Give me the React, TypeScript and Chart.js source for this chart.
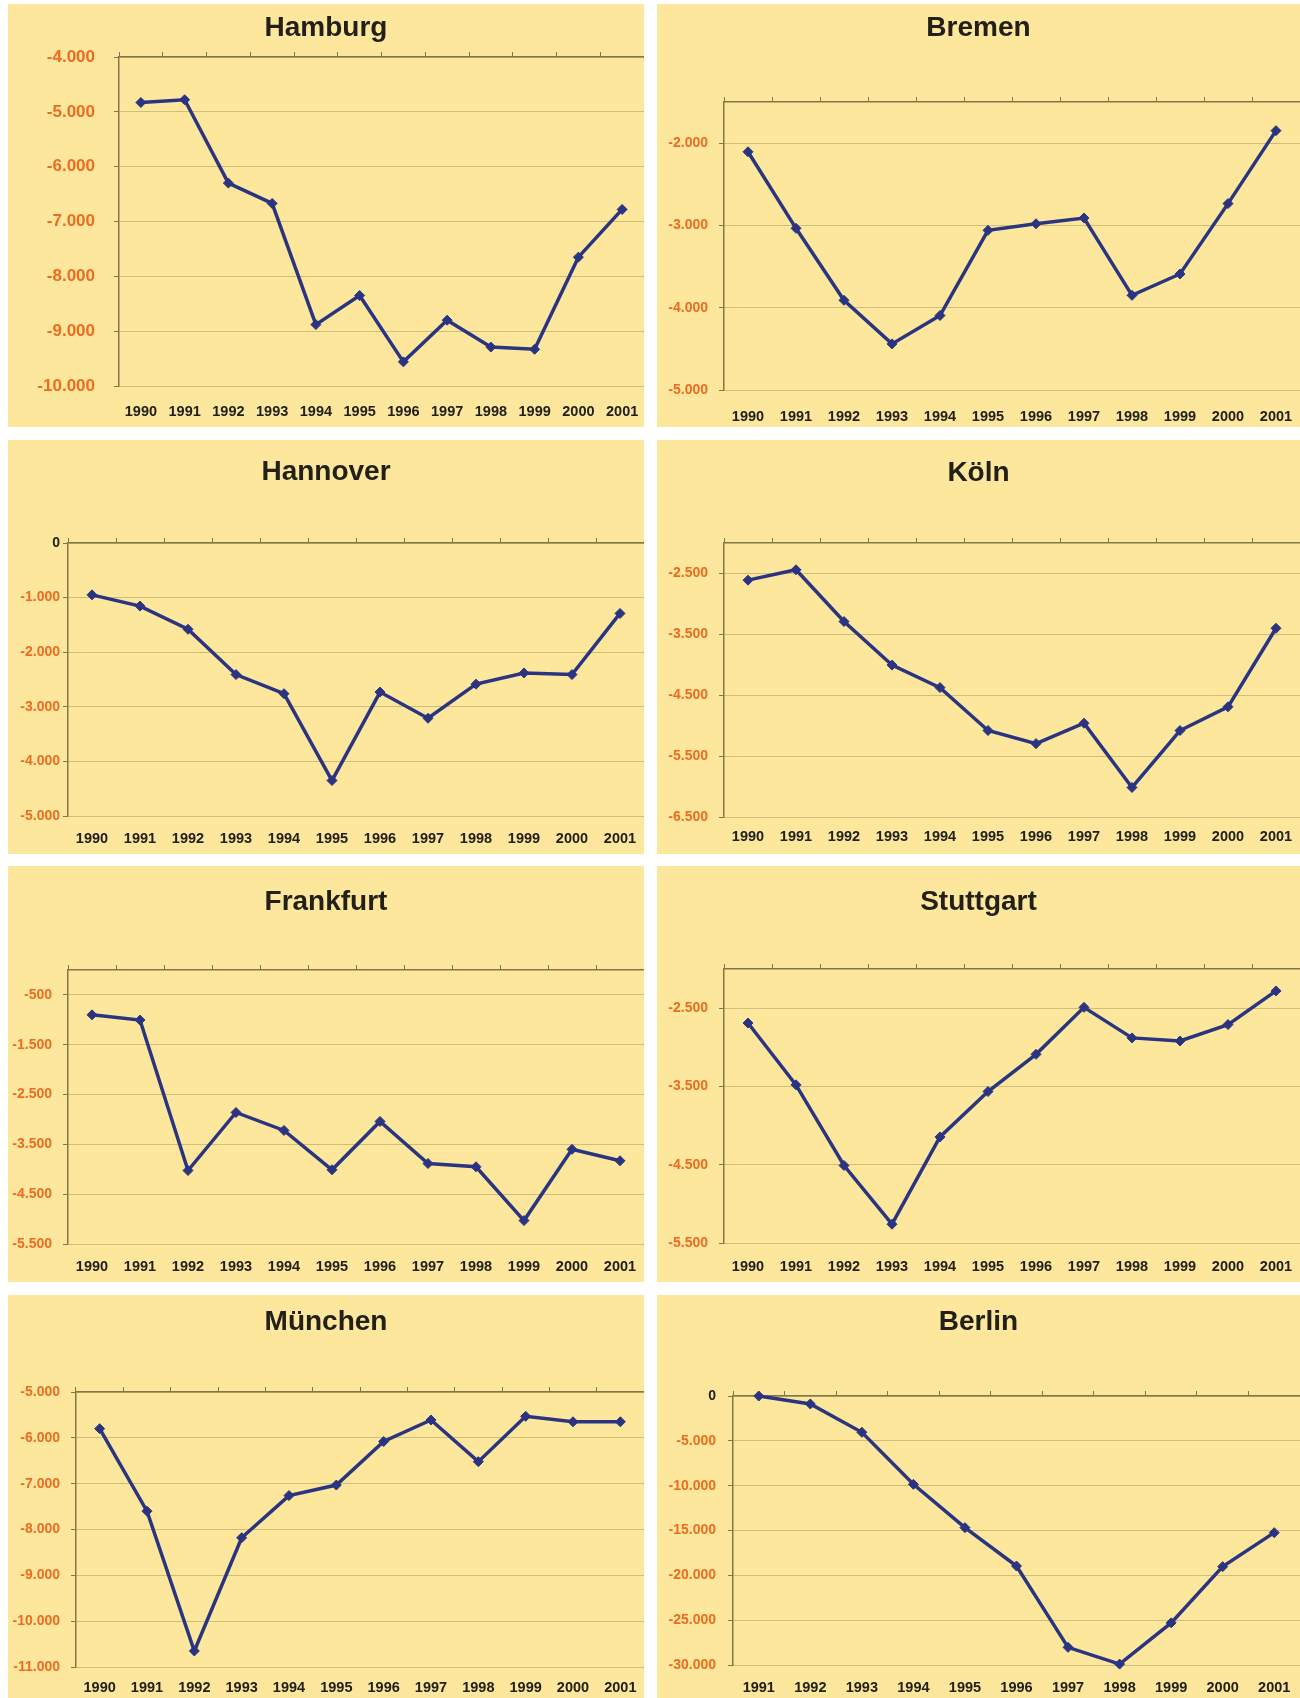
import React, { useEffect, useRef } from 'react';
import { Chart, registerables } from 'chart.js';

Chart.register(...registerables);

// ---------- data ----------
const years = ['1990', '1991', '1992', '1993', '1994', '1995', '1996', '1997', '1998', '1999', '2000', '2001'];
const yearsBerlin = ['1991', '1992', '1993', '1994', '1995', '1996', '1997', '1998', '1999', '2000', '2001'];

const hamburgValues = [-4830, -4780, -6300, -6670, -8880, -8350, -9560, -8800, -9290, -9330, -7650, -6780];
const bremenValues = [-2105, -3035, -3910, -4440, -4095, -3060, -2980, -2910, -3850, -3590, -2735, -1848];
const hannoverValues = [-950, -1155, -1580, -2410, -2760, -4350, -2730, -3210, -2585, -2380, -2410, -1290];
const koelnValues = [-2610, -2440, -3290, -4005, -4375, -5080, -5295, -4960, -6015, -5080, -4690, -3400];
const frankfurtValues = [-900, -1005, -4025, -2860, -3220, -4010, -3040, -3885, -3950, -5030, -3600, -3830];
const stuttgartValues = [-2690, -3480, -4510, -5260, -4145, -3565, -3090, -2490, -2880, -2920, -2710, -2280];
const muenchenValues = [-5800, -7600, -10650, -8180, -7260, -7030, -6080, -5610, -6520, -5530, -5650, -5650];
const berlinValues = [0, -890, -4050, -9850, -14680, -18960, -28030, -29900, -25300, -19030, -15240];

const hamburgTicks = [-10000, -9000, -8000, -7000, -6000, -5000, -4000];
const bremenTicks = [-5000, -4000, -3000, -2000];
const hannoverTicks = [-5000, -4000, -3000, -2000, -1000, 0];
const koelnTicks = [-6500, -5500, -4500, -3500, -2500];
const frankfurtTicks = [-5500, -4500, -3500, -2500, -1500, -500];
const stuttgartTicks = [-5500, -4500, -3500, -2500];
const muenchenTicks = [-11000, -10000, -9000, -8000, -7000, -6000, -5000];
const berlinTicks = [-30000, -25000, -20000, -15000, -10000, -5000, 0];

// ---------- styles ----------
const FONT = "'Liberation Sans', Arial, Helvetica, sans-serif";
const BG = '#FCE79C';
const LINE = '#2B3481';
const GRID = '#CFBE7A';
const AXIS = '#817847';
const ORANGE = '#EE6C22';
const DARK = '#222018';

type Panel = {
  title: string;
  labels: string[];
  values: number[];
  ticks: number[];
  min: number;
  max: number;
  left: number;
  top: number;
  w: number;
  h: number;
  chartLeft: number;
  chartTop: number;
  chartBottom: number;
  titleY: number;
  xLabelY: number;
  yLabelRight: number;
  yFont: number;
};

const panels: Panel[] = [
  { title: 'Hamburg', labels: years, values: hamburgValues, ticks: hamburgTicks, min: -10000, max: -4000,
    left: 8, top: 4, w: 636, h: 423, chartLeft: 111, chartTop: 53, chartBottom: 382, titleY: 24, xLabelY: 408, yLabelRight: 87, yFont: 17 },
  { title: 'Bremen', labels: years, values: bremenValues, ticks: bremenTicks, min: -5000, max: -1500,
    left: 657, top: 4, w: 643, h: 423, chartLeft: 67, chartTop: 98, chartBottom: 386, titleY: 24, xLabelY: 413, yLabelRight: 51, yFont: 14 },
  { title: 'Hannover', labels: years, values: hannoverValues, ticks: hannoverTicks, min: -5000, max: 0,
    left: 8, top: 440, w: 636, h: 414, chartLeft: 60, chartTop: 103, chartBottom: 376, titleY: 32, xLabelY: 399, yLabelRight: 52, yFont: 14 },
  { title: 'Köln', labels: years, values: koelnValues, ticks: koelnTicks, min: -6500, max: -2000,
    left: 657, top: 440, w: 643, h: 414, chartLeft: 67, chartTop: 103, chartBottom: 377, titleY: 33, xLabelY: 397, yLabelRight: 51, yFont: 14 },
  { title: 'Frankfurt', labels: years, values: frankfurtValues, ticks: frankfurtTicks, min: -5500, max: 0,
    left: 8, top: 866, w: 636, h: 416, chartLeft: 60, chartTop: 104, chartBottom: 378, titleY: 36, xLabelY: 401, yLabelRight: 44, yFont: 14 },
  { title: 'Stuttgart', labels: years, values: stuttgartValues, ticks: stuttgartTicks, min: -5500, max: -2000,
    left: 657, top: 866, w: 643, h: 416, chartLeft: 67, chartTop: 103, chartBottom: 377, titleY: 36, xLabelY: 401, yLabelRight: 51, yFont: 14 },
  { title: 'München', labels: years, values: muenchenValues, ticks: muenchenTicks, min: -11000, max: -5000,
    left: 8, top: 1295, w: 636, h: 403, chartLeft: 68, chartTop: 97, chartBottom: 372, titleY: 27, xLabelY: 393, yLabelRight: 52, yFont: 14 },
  { title: 'Berlin', labels: yearsBerlin, values: berlinValues, ticks: berlinTicks, min: -30000, max: 0,
    left: 657, top: 1295, w: 643, h: 403, chartLeft: 76, chartTop: 101, chartBottom: 370, titleY: 27, xLabelY: 393, yLabelRight: 59, yFont: 14 },
];

function formatDE(v: number): string {
  const s = Math.round(Math.abs(v)).toString().replace(/\B(?=(\d{3})+(?!\d))/g, '.');
  return (v < 0 ? '-' : '') + s;
}

const TITLE_SIZE = 28;
const TITLE_LH = 1.2;
const X_FONT = 14.5;
const Y_TICK_LEN = 5;

function zeroPad(s: any) {
  s.paddingLeft = 0;
  s.paddingRight = 0;
  s.paddingTop = 0;
  s.paddingBottom = 0;
}

function PanelChart({ p }: { p: Panel }) {
  const ref = useRef<HTMLCanvasElement | null>(null);

  useEffect(() => {
    if (!ref.current) return;
    const titlePadTop = p.titleY - (TITLE_SIZE * TITLE_LH) / 2;
    const titleBoxH = titlePadTop + TITLE_SIZE * TITLE_LH;
    const xPad = p.xLabelY - p.chartBottom - (X_FONT * 1.2) / 2;
    const xAxisH = p.h - p.chartBottom;

    const chart = new Chart(ref.current, {
      type: 'line',
      data: {
        labels: p.labels,
        datasets: [
          {
            data: p.values,
            borderColor: LINE,
            borderWidth: 3.5,
            backgroundColor: LINE,
            pointStyle: 'rectRot',
            pointRadius: 5,
            pointBackgroundColor: LINE,
            pointBorderColor: LINE,
            pointBorderWidth: 1,
            tension: 0,
            clip: false as any,
            xAxisID: 'x',
            yAxisID: 'y',
          },
        ],
      },
      options: {
        responsive: false,
        animation: false,
        devicePixelRatio: 1,
        layout: {
          autoPadding: false,
          padding: { left: 0, top: 0, right: 0, bottom: 0 },
        },
        plugins: {
          legend: { display: false },
          tooltip: { enabled: false },
          title: {
            display: true,
            text: p.title,
            color: DARK,
            font: { family: FONT, size: TITLE_SIZE, weight: 'bold', lineHeight: TITLE_LH },
            padding: { top: titlePadTop, bottom: 0 },
          },
        },
        scales: {
          x: {
            type: 'category',
            position: 'bottom',
            offset: true,
            grid: { display: false, drawTicks: false, tickLength: 0 },
            border: { display: false },
            ticks: {
              autoSkip: false,
              maxRotation: 0,
              minRotation: 0,
              padding: xPad,
              color: DARK,
              font: { family: FONT, size: X_FONT, weight: 'bold' },
            },
            afterFit: (s: any) => {
              s.height = xAxisH;
              zeroPad(s);
            },
          },
          x2: {
            type: 'category',
            position: 'top',
            labels: p.labels,
            offset: true,
            grid: {
              offset: true,
              drawOnChartArea: false,
              drawTicks: true,
              tickLength: 5,
              color: AXIS,
              tickColor: AXIS,
            },
            border: { display: true, color: AXIS, width: 1.5 },
            ticks: { display: false },
            afterFit: (s: any) => {
              s.height = p.chartTop - titleBoxH;
              zeroPad(s);
            },
          },
          y: {
            type: 'linear',
            position: 'left',
            min: p.min,
            max: p.max,
            afterBuildTicks: (s: any) => {
              s.ticks = p.ticks.map((v) => ({ value: v }));
            },
            grid: {
              color: GRID,
              lineWidth: 1,
              drawTicks: true,
              tickLength: Y_TICK_LEN,
              tickColor: AXIS,
            },
            border: { display: true, color: AXIS, width: 1.5 },
            ticks: {
              padding: Math.max(0, p.chartLeft - p.yLabelRight - Y_TICK_LEN),
              color: (ctx: any) => (ctx.tick && ctx.tick.value < 0 ? ORANGE : DARK),
              font: { family: FONT, size: p.yFont, weight: 'bold' },
              callback: (v: any) => formatDE(Number(v)),
            },
            afterFit: (s: any) => {
              s.width = p.chartLeft;
              zeroPad(s);
            },
          },
        },
      } as any,
    });
    return () => chart.destroy();
  }, [p]);

  return (
    <div
      style={{
        position: 'absolute',
        left: p.left,
        top: p.top,
        width: p.w,
        height: p.h,
        background: BG,
        overflow: 'hidden',
      }}
    >
      <canvas ref={ref} width={p.w} height={p.h} style={{ display: 'block', width: p.w, height: p.h }} />
    </div>
  );
}

export default function App() {
  return (
    <div style={{ position: 'absolute', left: 0, top: 0, width: 1300, height: 1698, background: '#FFFFFF' }}>
      {panels.map((p) => (
        <PanelChart key={p.title} p={p} />
      ))}
    </div>
  );
}
